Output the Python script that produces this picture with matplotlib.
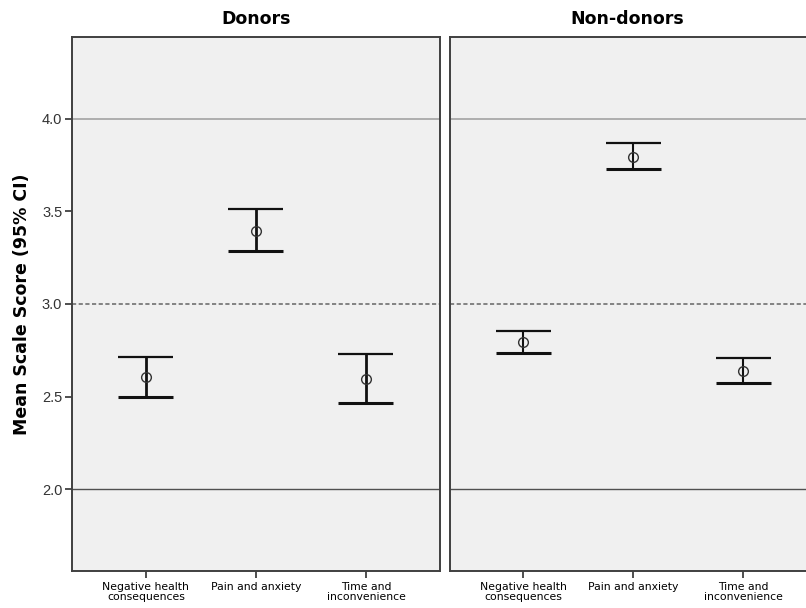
import numpy as np
import matplotlib
matplotlib.use("Agg")
import matplotlib.pyplot as plt

# categories and values
categories = ["Negative health\nconsequences", "Pain and anxiety", "Time and\ninconvenience"]
panels = ["Donors", "Non-donors"]

donor_mean = [2.607, 3.396, 2.596]
donor_lo = [2.499, 3.285, 2.466]
donor_hi = [2.715, 3.512, 2.730]

nondonor_mean = [2.795, 3.795, 2.639]
nondonor_lo = [2.737, 3.728, 2.571]
nondonor_hi = [2.856, 3.869, 2.710]

yticks = [2.0, 2.5, 3.0, 3.5, 4.0]

W, H = 806, 608
fig = plt.figure(figsize=(W / 100, H / 100), dpi=100)

def px_axes(x0, x1, y0, y1):
    return fig.add_axes([x0 / W, 1 - y1 / H, (x1 - x0) / W, (y1 - y0) / H])

ax_l = px_axes(72, 440, 37, 571)
ax_r = px_axes(450, 806, 37, 571)

data = [(donor_mean, donor_lo, donor_hi), (nondonor_mean, nondonor_lo, nondonor_hi)]
x = np.arange(len(categories))

for i, (ax, title, (m, lo, hi)) in enumerate(zip([ax_l, ax_r], panels, data)):
    ax.set_facecolor("#f0f0f0")
    m = np.array(m); lo = np.array(lo); hi = np.array(hi)
    ax.axhline(4.0, color="#a8a8a8", lw=1.3, zorder=1)
    ax.axhline(2.0, color="#505050", lw=1.0, zorder=1)
    ax.axhline(3.0, color="#707070", lw=1.2, ls=(0, (2.5, 1.5)), zorder=1)
    elw = 2.0 if i == 0 else 1.5
    ax.vlines(x, lo, hi, color="#111111", lw=elw, zorder=3)
    ax.hlines(hi, x - 0.25, x + 0.25, color="#111111", lw=1.6, zorder=3)
    ax.hlines(lo, x - 0.25, x + 0.25, color="#111111", lw=2.2, zorder=3)
    ax.plot(x, m, "o", ms=7, mfc="none", mec="#333333", mew=1.0, zorder=4)
    ax.set_ylim(1.557, 4.443)
    ax.set_xticks(x)
    ax.set_xticklabels(categories, fontsize=7.8, family="DejaVu Sans", linespacing=1.0)
    ax.tick_params(axis="x", length=5, width=1.3, color="#404040", pad=3)
    ax.set_title(title, fontsize=12.5, fontweight="bold", pad=9)
    for s in ax.spines.values():
        s.set_color("#404040")
        s.set_linewidth(1.4)

ax_l.set_xlim(-0.672, 2.673)
ax_r.set_xlim(1 - 183 / 110, 1 + 173 / 110)
ax_r.spines["right"].set_visible(False)

ax_l.set_yticks(yticks)
ax_l.set_yticklabels([f"{v:.1f}" for v in yticks], fontsize=10.5, family="Liberation Sans", color="#333333")
ax_l.tick_params(axis="y", length=5, width=1.3, color="#404040", pad=2)
ax_l.set_ylabel("Mean Scale Score (95% CI)", fontsize=12.5, fontweight="bold", labelpad=8)

ax_r.set_yticks([])
ax_r.set_title("Non-donors", fontsize=12.5, fontweight="bold", pad=9, x=(627 - 450) / 356)

fig.savefig("out.png", dpi=100, facecolor="white")
